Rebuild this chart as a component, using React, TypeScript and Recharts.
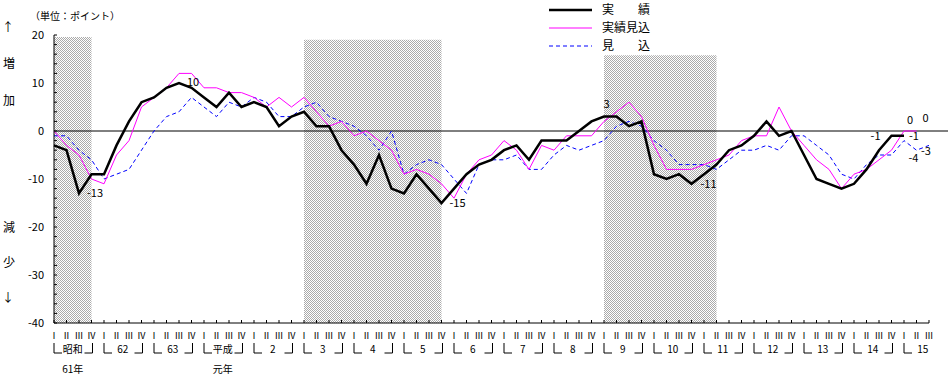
import React from "react";
import { LineChart, Line, XAxis, YAxis, ReferenceArea, ReferenceLine, Legend, LabelList } from "recharts";

// 年・四半期
const YEARS = ["61", "62", "63", "元", "2", "3", "4", "5", "6", "7", "8", "9", "10", "11", "12", "13", "14", "15"];
const QUARTERS = ["Ⅰ", "Ⅱ", "Ⅲ", "Ⅳ"];
const LAST_YEAR_QUARTERS = 3;
const YEAR_TOP: Record<string, string> = { "61": "昭和", "元": "平成" };
const YEAR_BOTTOM: Record<string, string> = { "61": "61年", "元": "元年" };

// 実績 (昭和61 Ⅰ 〜 15 Ⅰ)
const ACTUAL = [
  -3, -4, -13, -9, -9, -3, 2, 6, 7, 9, 10, 9, 7, 5, 8, 5, 6, 5, 1, 3,
  4, 1, 1, -4, -7, -11, -5, -12, -13, -9, -12, -15, -12, -9, -7, -6, -4, -3, -6, -2,
  -2, -2, 0, 2, 3, 3, 1, 2, -9, -10, -9, -11, -9, -7, -4, -3, -1, 2, -1, 0,
  -5, -10, -11, -12, -11, -8, -4, -1, -1,
];

// 実績見込 (〜 15 Ⅱ)
const ESTIMATE = [
  0, -3, -5, -10, -11, -5, -2, 5, 7, 9, 12, 12, 9, 9, 8, 8, 7, 5, 7, 5,
  7, 4, 1, 2, -1, 0, -2, -4, -9, -8, -9, -11, -14, -9, -6, -5, -2, -4, -8, -3,
  -4, -1, -1, -1, 2, 4, 6, 3, -3, -8, -8, -8, -7, -6, -5, -2, -1, -1, 5, 0,
  -3, -6, -8, -12, -9, -8, -6, -4, 0, 0,
];

// 見込 (〜 15 Ⅲ)
const FORECAST = [
  -1, -1, -4, -6, -10, -9, -8, -4, 0, 3, 4, 7, 5, 3, 6, 5, 7, 6, 3, 3,
  5, 6, 3, 2, 1, -1, -4, 0, -9, -7, -6, -7, -10, -13, -7, -6, -6, -5, -8, -8,
  -5, -3, -4, -3, -2, 1, 2, 1, -2, -4, -7, -7, -7, -8, -6, -4, -4, -3, -4, -1,
  -1, -3, -5, -9, -10, -7, -5, -5, -2, -4, -3,
];

// 景気後退期の網掛け
const SHADE_START = ["61-0", "3-0", "9-0"];
const SHADE_END = ["61-3", "5-3", "11-1"];
const SHADE_TOP = [19.6, 19, 15.8];

const Y_TICKS = [
  -40, -38, -36, -34, -32, -30, -28, -26, -24, -22, -20, -18, -16, -14, -12, -10,
  -8, -6, -4, -2, 0, 2, 4, 6, 8, 10, 12, 14, 16, 18, 20,
];
const Y_LABELS = [20, 10, 0, -10, -20, -30, -40];

type Note = { i: number; dx: number; dy: number; anchor: "start" | "middle" | "end" };
const ACTUAL_NOTES: Note[] = [
  { i: 2, dx: 8, dy: 0, anchor: "start" },
  { i: 10, dx: 8, dy: -1, anchor: "start" },
  { i: 31, dx: 8, dy: 0, anchor: "start" },
  { i: 45, dx: -10, dy: -13, anchor: "middle" },
  { i: 51, dx: 9, dy: 0, anchor: "start" },
  { i: 67, dx: -11, dy: 0, anchor: "end" },
  { i: 68, dx: 5, dy: 0, anchor: "start" },
];
const ESTIMATE_NOTES: Note[] = [
  { i: 68, dx: 6, dy: -11, anchor: "middle" },
  { i: 69, dx: 9, dy: -13, anchor: "middle" },
];
const FORECAST_NOTES: Note[] = [
  { i: 69, dx: -3, dy: 8, anchor: "middle" },
  { i: 70, dx: -3, dy: 6, anchor: "middle" },
];

const W = 951;
const H = 376;
const PLOT_LEFT = 54;
const PLOT_RIGHT = 929;
const PLOT_TOP = 35;
const PLOT_BOTTOM = 323;
const FONT = "'Noto Sans CJK JP', 'Noto Sans', sans-serif";

const rows: any[] = [];
YEARS.forEach((yr, yi) => {
  const n = yi === YEARS.length - 1 ? LAST_YEAR_QUARTERS : 4;
  for (let q = 0; q < n; q++) {
    const i = rows.length;
    rows.push({
      key: `${yr}-${q}`,
      year: yr,
      yi,
      q,
      actual: ACTUAL[i] ?? null,
      estimate: ESTIMATE[i] ?? null,
      forecast: FORECAST[i] ?? null,
    });
  }
});
const rowByKey: Record<string, any> = {};
rows.forEach((r) => (rowByKey[r.key] = r));
const STEP = (PLOT_RIGHT - PLOT_LEFT) / (rows.length - 1);

function QuarterTick(props: any) {
  const { x, y, payload } = props;
  const row = rowByKey[payload.value];
  if (!row) return null;
  const inYear = row.yi === YEARS.length - 1 ? LAST_YEAR_QUARTERS : 4;
  const cx = x + STEP * 1.5;
  return (
    <g fontFamily={FONT} fill="#000">
      <line x1={x} y1={y} x2={x} y2={y - 3} stroke="#000" />
      <text x={x} y={y + 16} textAnchor="middle" fontSize={9}>
        {QUARTERS[row.q]}
      </text>
      {row.q === 0 && (
        <g>
          <path d={`M${x} ${y + 20} V${y + 30} H${x + 8}`} fill="none" stroke="#000" />
          {inYear === 4 && (
            <path
              d={`M${x + 3 * STEP + 1} ${y + 20} V${y + 30} H${x + 3 * STEP - 7}`}
              fill="none"
              stroke="#000"
            />
          )}
          <text x={cx} y={y + 30} textAnchor="middle" fontSize={10}>
            {YEAR_TOP[row.year] ?? row.year}
          </text>
          {YEAR_BOTTOM[row.year] && (
            <text x={cx} y={y + 50} textAnchor="middle" fontSize={10}>
              {YEAR_BOTTOM[row.year]}
            </text>
          )}
        </g>
      )}
    </g>
  );
}

function ValueTick(props: any) {
  const { x, y, payload } = props;
  const v = payload.value;
  return (
    <g>
      <line x1={x} y1={y} x2={x + 3} y2={y} stroke="#000" />
      {Y_LABELS.includes(v) && (
        <text x={x - 10} y={y} dy="0.36em" textAnchor="end" fontSize={11} fontFamily={FONT} fill="#000">
          {v}
        </text>
      )}
    </g>
  );
}

function makeLabel(notes: Note[]) {
  return (p: any) => {
    const n = notes.find((m) => m.i === p.index);
    const px = p.x ?? p.viewBox?.x;
    const py = p.y ?? p.viewBox?.y;
    if (!n || p.value == null || px == null) return null;
    return (
      <text
        x={px + n.dx}
        y={py + n.dy}
        dy="0.36em"
        textAnchor={n.anchor}
        fontSize={11}
        fontFamily={FONT}
        fill="#000"
      >
        {p.value}
      </text>
    );
  };
}

function LegendBox() {
  const items = [
    { label: "実　　績", stroke: "#000", width: 2.5, dash: undefined },
    { label: "実績見込", stroke: "#ff00ff", width: 1, dash: undefined },
    { label: "見　　込", stroke: "#0000ff", width: 1, dash: "4 3" },
  ];
  return (
    <svg width={120} height={56} style={{ display: "block" }}>
      {items.map((it, k) => (
        <g key={k}>
          <line
            x1={4}
            x2={47}
            y1={10 + k * 18}
            y2={10 + k * 18}
            stroke={it.stroke}
            strokeWidth={it.width}
            strokeDasharray={it.dash}
          />
          <text x={57} y={10 + k * 18} dy="0.36em" fontSize={12} fontFamily={FONT} fill="#000">
            {it.label}
          </text>
        </g>
      ))}
    </svg>
  );
}

const sideText: React.CSSProperties = {
  position: "absolute",
  fontSize: 12,
  lineHeight: "12px",
  color: "#000",
  transform: "translate(-50%, -50%)",
  whiteSpace: "nowrap",
};

export default function App() {
  return (
    <div style={{ position: "absolute", left: 0, top: 0, width: W, height: H, background: "#fff", fontFamily: FONT }}>
      <LineChart
        width={W}
        height={H}
        data={rows}
        margin={{ top: PLOT_TOP, right: W - PLOT_RIGHT, left: PLOT_LEFT - 40, bottom: H - PLOT_BOTTOM - 50 }}
      >
        <defs>
          <pattern id="dither" width="2" height="2" patternUnits="userSpaceOnUse">
            <rect width="2" height="2" fill="#fff" />
            <rect width="1" height="1" fill="#aaa" />
            <rect x="1" y="1" width="1" height="1" fill="#aaa" />
          </pattern>
        </defs>
        {SHADE_START.map((s, k) => (
          <ReferenceArea
            key={s}
            x1={s}
            x2={SHADE_END[k]}
            y1={-40}
            y2={SHADE_TOP[k]}
            fill="url(#dither)"
            fillOpacity={1}
            stroke="none"
          />
        ))}
        <XAxis
          dataKey="key"
          interval={0}
          tickLine={false}
          tickSize={0}
          tickMargin={0}
          axisLine={{ stroke: "#000" }}
          height={50}
          tick={(p: any) => <QuarterTick {...p} />}
        />
        <YAxis
          type="number"
          domain={[-40, 20]}
          ticks={Y_TICKS}
          interval={0}
          tickLine={false}
          tickSize={0}
          tickMargin={0}
          axisLine={{ stroke: "#000" }}
          width={40}
          tick={(p: any) => <ValueTick {...p} />}
        />
        <ReferenceLine
          y={0}
          stroke="#000"
          shape={(p: any) =>
            p.x1 == null ? <g /> : <line x1={p.x1} y1={p.y1} x2={p.x2 + 19} y2={p.y2} stroke="#000" strokeWidth={1} />
          }
        />
        <Line
          dataKey="forecast"
          stroke="#0000ff"
          strokeWidth={1}
          strokeDasharray="4 3"
          dot={false}
          isAnimationActive={false}
        >
          <LabelList dataKey="forecast" content={makeLabel(FORECAST_NOTES)} />
        </Line>
        <Line dataKey="estimate" stroke="#ff00ff" strokeWidth={1} dot={false} isAnimationActive={false}>
          <LabelList dataKey="estimate" content={makeLabel(ESTIMATE_NOTES)} />
        </Line>
        <Line dataKey="actual" stroke="#000" strokeWidth={2.5} dot={false} isAnimationActive={false}>
          <LabelList dataKey="actual" content={makeLabel(ACTUAL_NOTES)} />
        </Line>
        <Legend
          layout="horizontal"
          verticalAlign="middle"
          align="center"
          content={() => <LegendBox />}
          wrapperStyle={{ left: 545, top: 0, width: 120, height: 56 }}
        />
      </LineChart>
      <div style={{ ...sideText, left: 75, top: 16, fontSize: 10 }}>（単位：ポイント）</div>
      <div style={{ ...sideText, left: 8, top: 27 }}>↑</div>
      <div style={{ ...sideText, left: 9, top: 63 }}>増</div>
      <div style={{ ...sideText, left: 9, top: 100 }}>加</div>
      <div style={{ ...sideText, left: 9, top: 227 }}>減</div>
      <div style={{ ...sideText, left: 9, top: 262 }}>少</div>
      <div style={{ ...sideText, left: 8, top: 297 }}>↓</div>
    </div>
  );
}
